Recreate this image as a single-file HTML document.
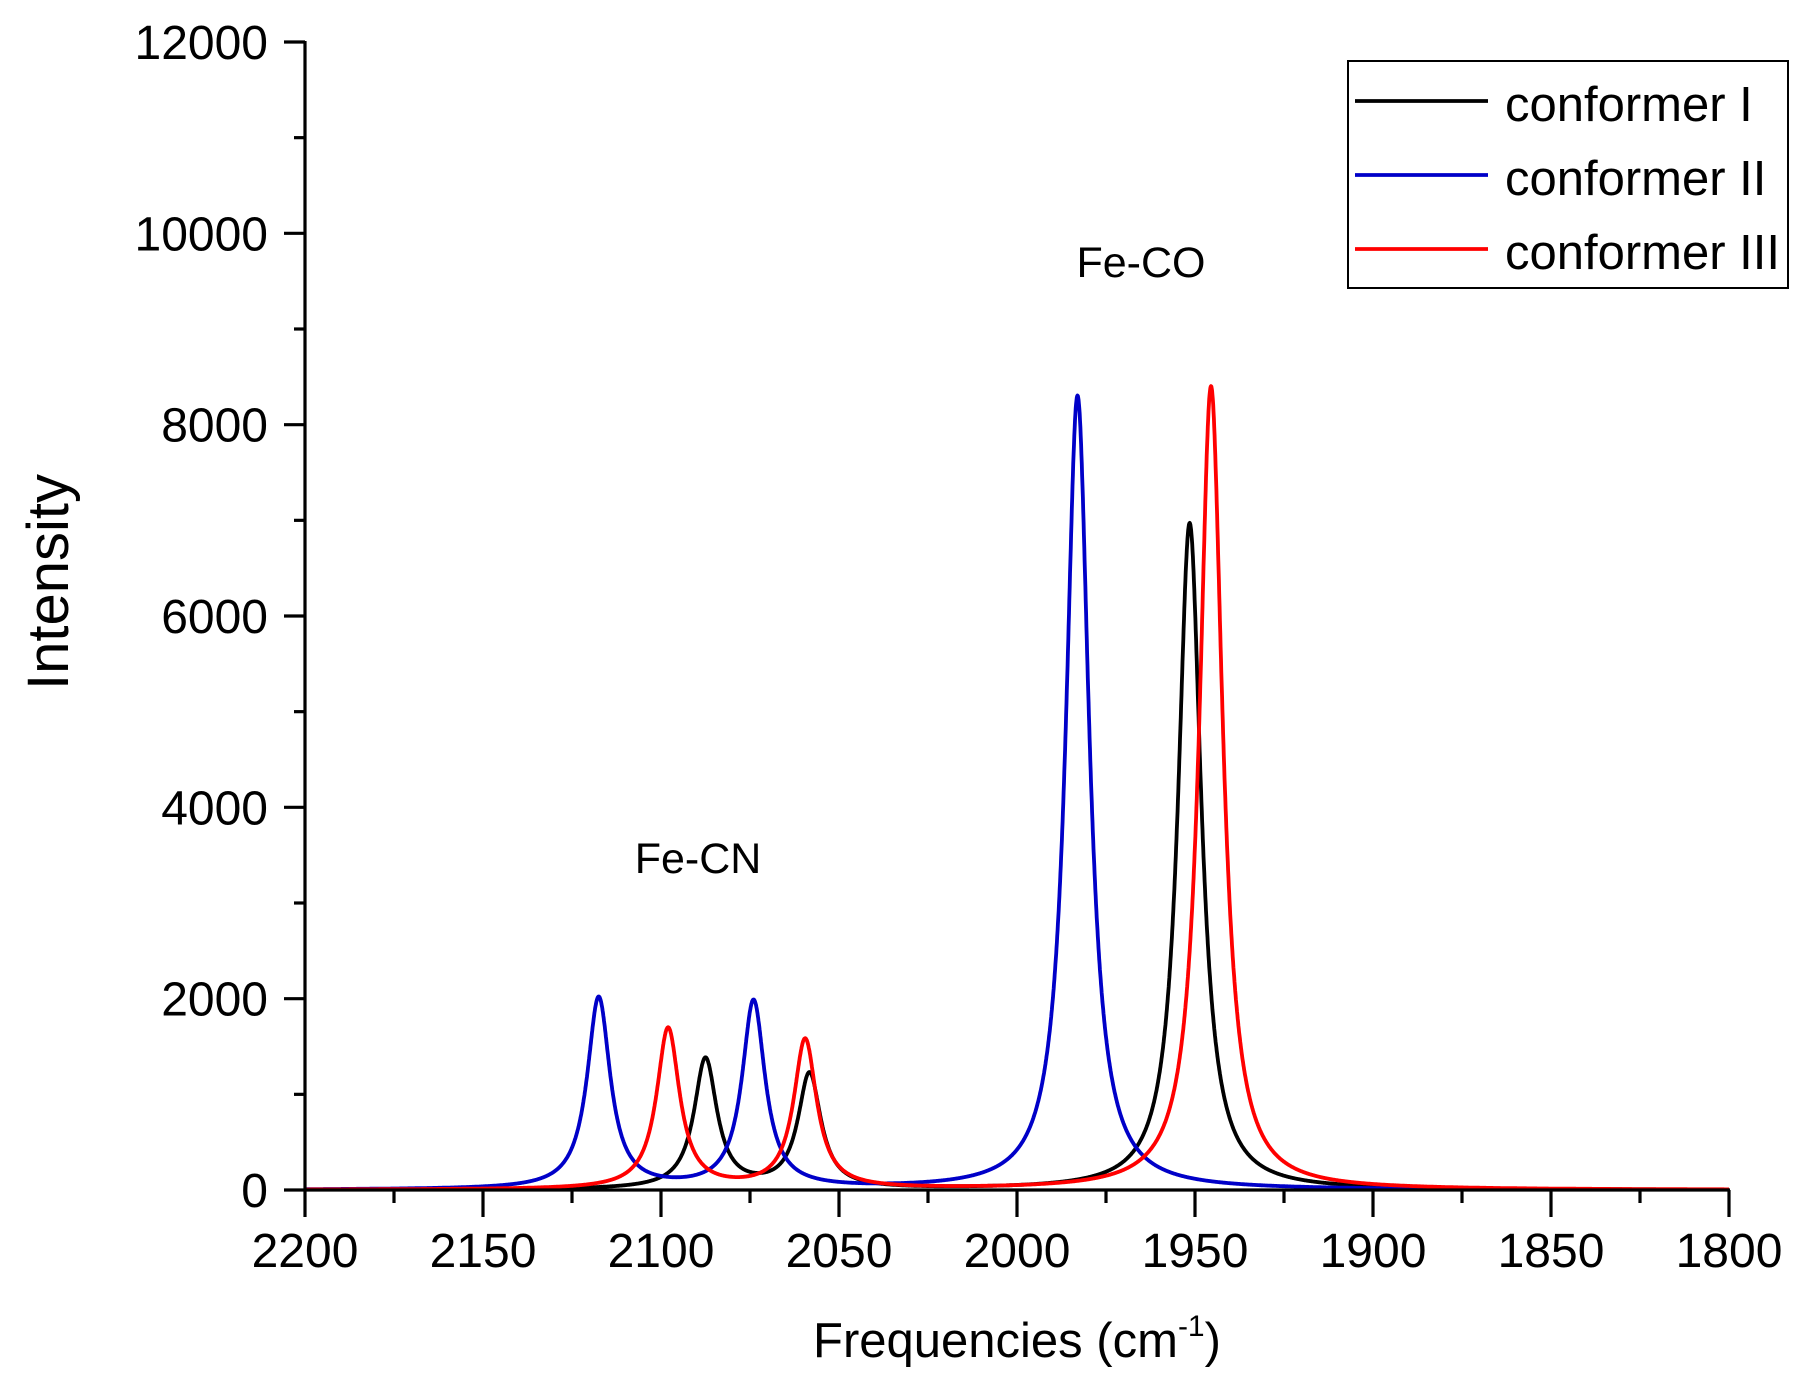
<!DOCTYPE html>
<html><head><meta charset="utf-8"><style>
html,body{margin:0;padding:0;background:#fff;width:1806px;height:1386px;overflow:hidden}
svg{display:block}
text{font-family:"Liberation Sans",Arial,sans-serif;fill:#000}
</style></head><body>
<svg id="s" width="1806" height="1386" viewBox="0 0 1806 1386" xmlns="http://www.w3.org/2000/svg">
<g id="curves" fill="none" stroke-width="3.8" stroke-linejoin="round"></g>
<g stroke="#000" stroke-width="3.2" fill="none">
<line x1="305" y1="41" x2="305" y2="1191"/>
<line x1="303.5" y1="1190" x2="1730" y2="1190"/>
<g id="ticks"></g>
</g>
<g id="labels" font-size="48"></g>
<text x="1141" y="277" font-size="43" text-anchor="middle">Fe-CO</text>
<text x="698" y="873" font-size="43" text-anchor="middle">Fe-CN</text>
<text font-size="58" transform="translate(68,582) rotate(-90)" text-anchor="middle">Intensity</text>
<text x="1017" y="1357" font-size="49" text-anchor="middle">Frequencies (cm<tspan font-size="30" dy="-21">-1</tspan><tspan dy="21">)</tspan></text>
<rect x="1348" y="61" width="440" height="227" fill="#fff" stroke="#000" stroke-width="2"/>
<line x1="1355" y1="101" x2="1488" y2="101" stroke="#000" stroke-width="3.8"/>
<line x1="1355" y1="175" x2="1488" y2="175" stroke="#0000c8" stroke-width="3.8"/>
<line x1="1355" y1="249" x2="1488" y2="249" stroke="#f00" stroke-width="3.8"/>
<text x="1505" y="121" font-size="49">conformer I</text>
<text x="1505" y="195" font-size="49">conformer II</text>
<text x="1505" y="269" font-size="49">conformer III</text>
</svg>
<script>
const X=f=>305+(2200-f)*(1424/400), Y=v=>1190-v*(1148/12000);
const ns="http://www.w3.org/2000/svg";
const series=[
 ["#000",[[2087.5,1360],[2058.3,1200],[1951.5,6970]]],
 ["#0000c8",[[2117.5,2000],[2074,1960],[1983,8300]]],
 ["#f00",[[2098,1680],[2059.5,1560],[1945.5,8400]]]];
const g=3.9,cg=document.getElementById('curves');
for(const [c,pk] of series){let d="";for(let f=2200;f>=1800;f-=0.1){let v=0;for(const [p,h] of pk)v+=h*g*g/((f-p)*(f-p)+g*g);d+=(d?"L":"M")+X(f).toFixed(1)+","+Y(v).toFixed(1);}
 const p=document.createElementNS(ns,"path");p.setAttribute("d",d);p.setAttribute("stroke",c);cg.appendChild(p);}
const tk=document.getElementById('ticks'),lb=document.getElementById('labels');
function ln(a,b,c,d){const l=document.createElementNS(ns,"line");l.setAttribute("x1",a);l.setAttribute("y1",b);l.setAttribute("x2",c);l.setAttribute("y2",d);tk.appendChild(l);}
function tx(x,y,s,a){const t=document.createElementNS(ns,"text");t.setAttribute("x",x);t.setAttribute("y",y);t.setAttribute("text-anchor",a);t.textContent=s;lb.appendChild(t);}
for(let f=2200;f>=1800;f-=25){const x=X(f),maj=f%50==0;ln(x,1190,x,maj?1217:1203);if(maj)tx(x,1267,String(f),"middle");}
for(let v=0;v<=12000;v+=1000){const y=Y(v),maj=v%2000==0;ln(305,y,maj?284:294,y);if(maj)tx(268,y+17,String(v),"end");}
</script>
</body></html>
